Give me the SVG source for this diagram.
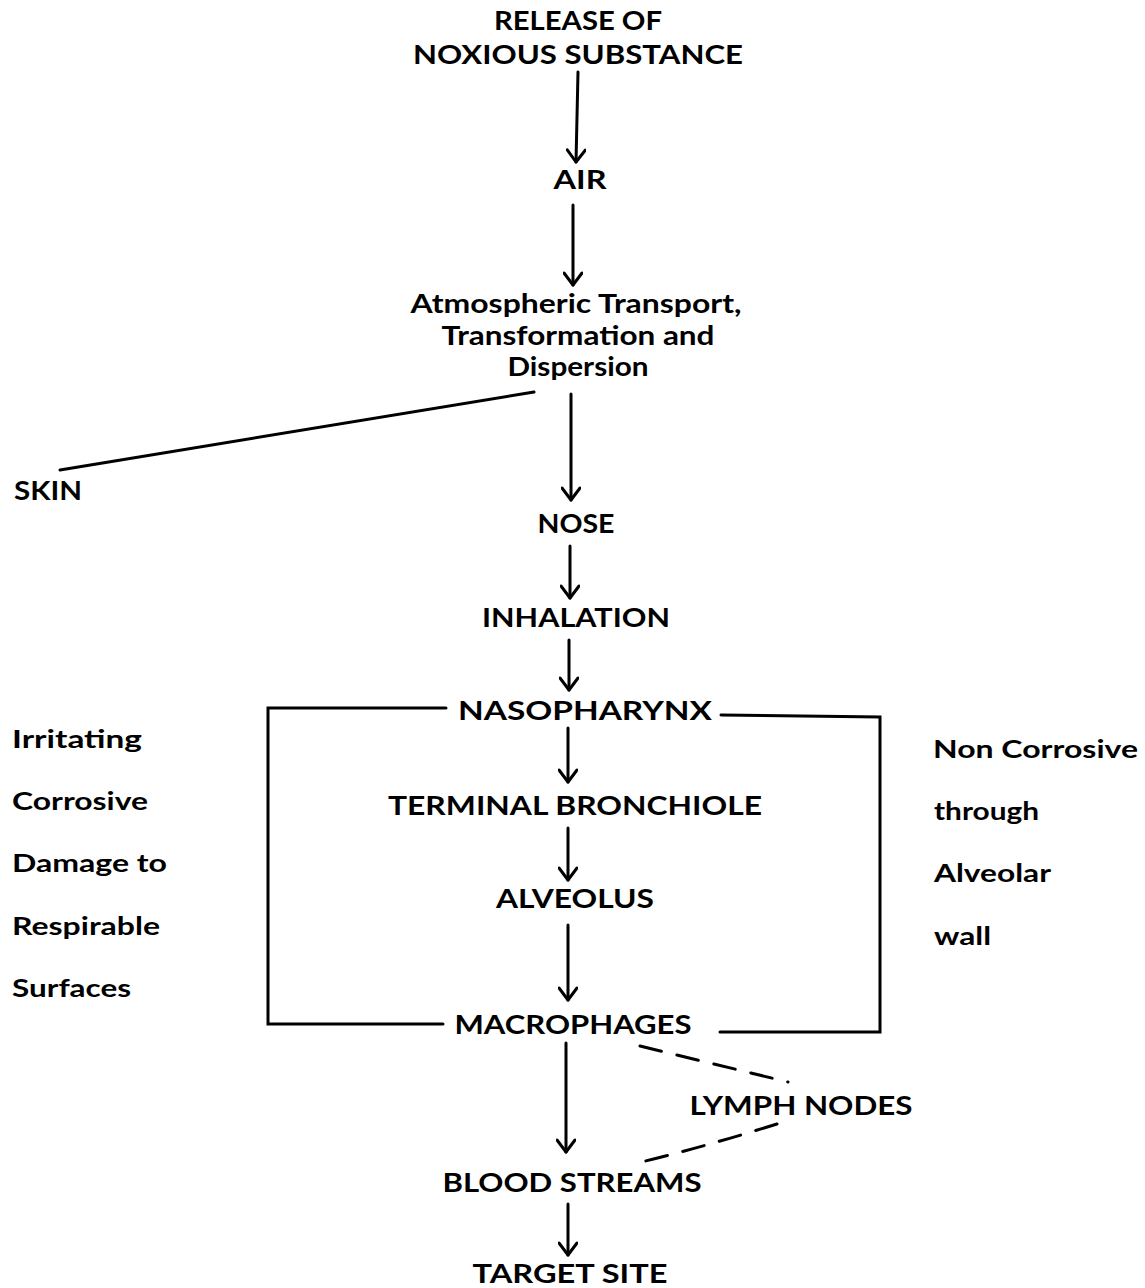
<svg xmlns="http://www.w3.org/2000/svg" width="1145" height="1288" viewBox="0 0 1145 1288">
<style>
text{font-family:Lato,"Open Sans","Liberation Sans",sans-serif;font-weight:bold;fill:#000;font-size:27px}
.c{text-anchor:middle}
.s{font-size:25px}
.ln{stroke:#000;stroke-width:3;fill:none;stroke-linecap:round}
.d{stroke-dasharray:22,16}
</style>
<defs>
<marker id="ah" viewBox="0 0 20 20" refX="18" refY="10" markerWidth="20" markerHeight="20" markerUnits="userSpaceOnUse" orient="auto">
<polyline points="6,1 18,10 6,19" fill="none" stroke="#000" stroke-width="3" stroke-linecap="round" stroke-linejoin="round"/>
</marker>
</defs>
<rect width="1145" height="1288" fill="#fff"/>
<g id="connectors">
<line class="ln" x1="578" y1="72" x2="576" y2="162" marker-end="url(#ah)"/>
<line class="ln" x1="573" y1="205" x2="573" y2="285" marker-end="url(#ah)"/>
<line class="ln" x1="534" y1="392" x2="60" y2="470"/>
<line class="ln" x1="571" y1="394" x2="571" y2="500" marker-end="url(#ah)"/>
<line class="ln" x1="570" y1="546" x2="570" y2="598" marker-end="url(#ah)"/>
<line class="ln" x1="569" y1="640" x2="569" y2="690" marker-end="url(#ah)"/>
<polyline class="ln" points="446,708 268,708 268,1024 443,1024"/>
<polyline class="ln" points="721,715 880,717 880,1032 720,1032"/>
<line class="ln" x1="568" y1="728" x2="568" y2="782" marker-end="url(#ah)"/>
<line class="ln" x1="568" y1="828" x2="568" y2="880" marker-end="url(#ah)"/>
<line class="ln" x1="568" y1="925" x2="568" y2="1000" marker-end="url(#ah)"/>
<line class="ln" x1="566" y1="1043" x2="566" y2="1152" marker-end="url(#ah)"/>
<line class="ln" x1="568" y1="1204" x2="568" y2="1255" marker-end="url(#ah)"/>
<line class="ln d" x1="640" y1="1046" x2="788" y2="1082"/>
<path class="ln d" d="M777,1124 Q700,1148 637,1163"/>
</g>
<g id="release"><text class="c" x="578" y="30" textLength="168" lengthAdjust="spacingAndGlyphs">RELEASE OF</text><text class="c" x="578" y="64" textLength="330" lengthAdjust="spacingAndGlyphs">NOXIOUS SUBSTANCE</text></g>
<g id="air"><text class="c" x="580" y="189" textLength="53" lengthAdjust="spacingAndGlyphs">AIR</text></g>
<g id="atmospheric"><text class="c" x="576" y="313" textLength="331" lengthAdjust="spacingAndGlyphs">Atmospheric Transport,</text><text class="c" x="578" y="345" textLength="273" lengthAdjust="spacingAndGlyphs">Transformation and</text><text class="c" x="578" y="376" textLength="141" lengthAdjust="spacingAndGlyphs">Dispersion</text></g>
<g id="skin"><text x="14" y="500" textLength="68" lengthAdjust="spacingAndGlyphs">SKIN</text></g>
<g id="nose"><text class="c" x="576" y="533" textLength="77" lengthAdjust="spacingAndGlyphs">NOSE</text></g>
<g id="inhalation"><text class="c" x="576" y="627" textLength="188" lengthAdjust="spacingAndGlyphs">INHALATION</text></g>
<g id="nasopharynx"><text class="c" x="585" y="720" textLength="254" lengthAdjust="spacingAndGlyphs">NASOPHARYNX</text></g>
<g id="terminal"><text class="c" x="575" y="815" textLength="374" lengthAdjust="spacingAndGlyphs">TERMINAL BRONCHIOLE</text></g>
<g id="alveolus"><text class="c" x="575" y="908" textLength="158" lengthAdjust="spacingAndGlyphs">ALVEOLUS</text></g>
<g id="macrophages"><text class="c" x="573" y="1034" textLength="237" lengthAdjust="spacingAndGlyphs">MACROPHAGES</text></g>
<g id="lymph"><text class="c" x="801" y="1115" textLength="223" lengthAdjust="spacingAndGlyphs">LYMPH NODES</text></g>
<g id="blood"><text class="c" x="572" y="1192" textLength="259" lengthAdjust="spacingAndGlyphs">BLOOD STREAMS</text></g>
<g id="target"><text class="c" x="570" y="1283" textLength="195" lengthAdjust="spacingAndGlyphs">TARGET SITE</text></g>
<g id="left-label">
<text class="s" x="12" y="748" textLength="130" lengthAdjust="spacingAndGlyphs">Irritating</text>
<text class="s" x="12" y="810" textLength="136" lengthAdjust="spacingAndGlyphs">Corrosive</text>
<text class="s" x="12" y="872" textLength="155" lengthAdjust="spacingAndGlyphs">Damage to</text>
<text class="s" x="12" y="935" textLength="148" lengthAdjust="spacingAndGlyphs">Respirable</text>
<text class="s" x="12" y="997" textLength="119" lengthAdjust="spacingAndGlyphs">Surfaces</text>
</g>
<g id="right-label">
<text class="s" x="933" y="758" textLength="205" lengthAdjust="spacingAndGlyphs">Non Corrosive</text>
<text class="s" x="934" y="820" textLength="105" lengthAdjust="spacingAndGlyphs">through</text>
<text class="s" x="934" y="882" textLength="117" lengthAdjust="spacingAndGlyphs">Alveolar</text>
<text class="s" x="934" y="945" textLength="57" lengthAdjust="spacingAndGlyphs">wall</text>
</g>
</svg>
